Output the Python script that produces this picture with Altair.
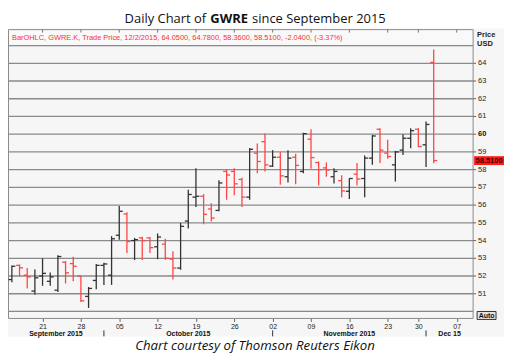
import altair as alt
import pandas as pd

# ---------------- data ----------------
dates = [
    "2015-09-15", "2015-09-16", "2015-09-17", "2015-09-18",
    "2015-09-21", "2015-09-22", "2015-09-23", "2015-09-24", "2015-09-25",
    "2015-09-28", "2015-09-29", "2015-09-30", "2015-10-01", "2015-10-02",
    "2015-10-05", "2015-10-06", "2015-10-07", "2015-10-08", "2015-10-09",
    "2015-10-12", "2015-10-13", "2015-10-14", "2015-10-15", "2015-10-16",
    "2015-10-19", "2015-10-20", "2015-10-21", "2015-10-22", "2015-10-23",
    "2015-10-26", "2015-10-27", "2015-10-28", "2015-10-29", "2015-10-30",
    "2015-11-02", "2015-11-03", "2015-11-04", "2015-11-05", "2015-11-06",
    "2015-11-09", "2015-11-10", "2015-11-11", "2015-11-12", "2015-11-13",
    "2015-11-16", "2015-11-17", "2015-11-18", "2015-11-19", "2015-11-20",
    "2015-11-23", "2015-11-24", "2015-11-25", "2015-11-27",
    "2015-11-30", "2015-12-01", "2015-12-02",
]
future_days = ["2015-12-03", "2015-12-04", "2015-12-07", "2015-12-08"]

opens = [51.8, 52.6, 52.05, 51.15, 52.0, 51.7, 51.2, 52.78, 52.7,
         52.0, 50.85, 51.75, 52.6, 52.05,
         54.3, 55.5, 54.0, 54.15, 54.15,
         53.65, 53.8, 52.95, 52.45, 55.1,
         56.45, 56.5, 55.78, 55.7, 57.9,
         57.9, 57.45, 56.45, 58.93, 59.58,
         58.2, 58.7, 57.6, 58.7, 57.9,
         59.72, 58.4, 58.1, 57.6, 57.38,
         56.78, 57.75, 57.5, 58.65, 60.28,
         58.93, 58.27, 59.1, 59.77,
         60.28, 59.4, 64.05]
highs = [52.6, 52.65, 52.45, 52.37, 53.0, 52.2, 53.17, 52.84, 53.08,
         52.02, 51.38, 52.68, 52.75, 54.25,
         55.95, 55.6, 54.15, 54.22, 54.2,
         54.4, 54.1, 53.4, 55.0, 56.86,
         58.08, 56.62, 56.1, 57.4, 58.0,
         58.08, 57.55, 59.22, 59.48, 60.04,
         59.1, 59.0, 59.1, 58.9, 60.08,
         60.28, 58.46, 58.4, 58.08, 57.68,
         57.52, 58.37, 58.8, 59.96, 60.34,
         59.68, 59.06, 60.0, 60.34,
         60.34, 60.71, 64.78]
lows = [51.65, 51.99, 51.3, 50.96, 51.45, 51.45, 51.1, 51.58, 51.7,
        50.53, 50.2, 51.25, 51.5, 51.5,
        54.05, 53.3, 52.9, 52.9, 53.3,
        52.95, 52.92, 51.8, 52.35, 54.68,
        55.9, 54.92, 55.08, 55.65, 56.3,
        56.55, 55.9, 56.3, 57.8, 57.9,
        58.15, 57.15, 57.28, 57.17, 57.8,
        58.05, 57.1, 57.6, 57.22, 56.45,
        56.35, 57.1, 56.45, 58.27, 58.37,
        58.62, 57.33, 58.83, 59.21,
        59.27, 58.15, 58.36]
closes = [52.55, 52.46, 51.95, 51.9, 52.15, 51.95, 53.1, 52.18, 52.55,
          50.6, 51.3, 52.6, 52.68, 54.1,
          55.65, 53.95, 54.05, 54.0, 53.6,
          54.2, 53.0, 52.45, 54.8, 56.6,
          56.5, 55.48, 55.27, 57.25, 57.7,
          57.2, 56.45, 59.15, 58.46, 58.27,
          58.7, 57.65, 58.65, 58.24, 60.03,
          58.68, 58.0, 57.98, 57.9, 56.8,
          57.5, 57.47, 58.65, 59.9, 59.1,
          58.74, 59.0, 59.77, 60.2,
          59.3, 60.55, 58.51]

tick_days = ["2015-09-21", "2015-09-28", "2015-10-05", "2015-10-12", "2015-10-19",
             "2015-10-26", "2015-11-02", "2015-11-09", "2015-11-16", "2015-11-23",
             "2015-11-30", "2015-12-07"]
tick_labels = ["21", "28", "05", "12", "19", "26", "02", "09", "16", "23", "30", "07"]
month_labels = ["September 2015", "October 2015", "November 2015", "Dec 15"]
y_grid = list(range(50, 66))
y_labels = list(range(51, 65))
y_bold = [60]
header_text = ("BarOHLC, GWRE.K, Trade Price,  12/2/2015, 64.0500, 64.7800, "
               "58.3600, 58.5100, -2.0400, (-3.37%)")
title_parts = ["Daily Chart of", "GWRE", "since September 2015"]
caption = "Chart courtesy of Thomson Reuters Eikon"

# ---------------- derived tables ----------------
W, H = 467, 267
XMIN, XMAX = -0.506, 60.14
RED, BLACK, GRID = "#ff4545", "#333333", "#8a8a8a"
SMALL = "Liberation Sans"

all_days = dates + future_days
df = pd.DataFrame({"date": dates, "open": opens, "high": highs,
                   "low": lows, "close": closes})
df["i"] = range(len(df))
df["dir"] = ["down" if c < o else "up" for o, c in zip(opens, closes)]

tick_idx = [all_days.index(d) for d in tick_days]
ticks_df = pd.DataFrame({"i": tick_idx, "lbl": tick_labels})

mon = pd.to_datetime(pd.Series(dates)).dt.to_period("M")
firsts = [int(mon[mon == m].index.min()) for m in mon.unique()][1:]
bounds = [XMIN] + firsts + [XMAX]
month_df = pd.DataFrame({"m": month_labels,
                         "c": [(a + b) / 2 for a, b in zip(bounds[:-1], bounds[1:])]})
sep_df = pd.DataFrame({"i": firsts})
grid_df = pd.DataFrame({"v": y_grid})
ylab_df = pd.DataFrame({"v": y_labels})
ylab_df["bold"] = ylab_df["v"].isin(y_bold)
one = pd.DataFrame({"k": [0]})
last = df.tail(1)

xs = alt.Scale(domain=[XMIN, XMAX], nice=False, zero=False)
ys = alt.Scale(domain=[50, 65], nice=False, zero=False)

label_expr_x = f"{tick_labels}[indexof({tick_idx}, datum.value)]"

x_axis = alt.Axis(orient="bottom", offset=7, values=tick_idx, labelExpr=label_expr_x,
                  tickSize=3, tickColor="#666", domain=False, grid=False,
                  labelFont=SMALL, labelFontSize=7, labelColor="#222",
                  labelPadding=1, labelFlush=False, labelOverlap=False, zindex=1)

color = alt.Color("dir:N", scale=alt.Scale(domain=["up", "down"], range=[BLACK, RED]),
                  legend=None)


def Y(field):
    return alt.Y(field, scale=ys, axis=None)


# ---------------- layers ----------------
panel = alt.Chart(one).mark_rect(color="#f6f6f6").encode(
    x=alt.value(0), x2=alt.value(498), y=alt.value(-17), y2=alt.value(292))

boxes = [
    alt.Chart(one).mark_rect(fill="#f9f9f9", stroke="#8a8a8a", strokeWidth=1).encode(
        x=alt.value(0.5), x2=alt.value(W), y=alt.value(-16), y2=alt.value(0)),
    alt.Chart(one).mark_rect(fill="#f6f6f6", stroke="#8a8a8a", strokeWidth=1).encode(
        x=alt.value(0.5), x2=alt.value(W), y=alt.value(0), y2=alt.value(H)),
    alt.Chart(one).mark_rect(fill="#f6f6f6", stroke="#8a8a8a", strokeWidth=1).encode(
        x=alt.value(0.5), x2=alt.value(W), y=alt.value(H), y2=alt.value(H + 7)),
]

grid = alt.Chart(grid_df).mark_rule(color=GRID, strokeWidth=1.3).encode(
    y=Y("v:Q"), x=alt.value(0.5), x2=alt.value(W))
yticks = alt.Chart(ylab_df).mark_rule(color="#666", strokeWidth=1).encode(
    y=Y("v:Q"), x=alt.value(W), x2=alt.value(W + 3))
ylab_n = alt.Chart(ylab_df).transform_filter("!datum.bold").mark_text(
    font=SMALL, fontSize=7.5, color="#222", align="left", baseline="middle").encode(
    y=Y("v:Q"), x=alt.value(W + 5), text="v:Q")
ylab_b = alt.Chart(ylab_df).transform_filter("datum.bold").mark_text(
    font=SMALL, fontSize=7.5, fontWeight="bold", color="#111", align="left",
    baseline="middle").encode(y=Y("v:Q"), x=alt.value(W + 5), text="v:Q")

hl = alt.Chart(df).mark_rule(strokeWidth=1.3).encode(
    x=alt.X("i:Q", scale=xs, axis=x_axis, title=None),
    y=Y("low:Q"), y2="high:Q", color=color)
op = alt.Chart(df).transform_calculate(il="datum.i - 0.45").mark_rule(strokeWidth=1.3).encode(
    x=alt.X("il:Q", scale=xs, title=None), x2="i:Q", y=Y("open:Q"), color=color)
cl = alt.Chart(df).transform_calculate(ir="datum.i + 0.45").mark_rule(strokeWidth=1.3).encode(
    x=alt.X("i:Q", scale=xs, title=None), x2="ir:Q", y=Y("close:Q"), color=color)

top_ticks = alt.Chart(ticks_df).mark_rule(color="#777", strokeWidth=1).encode(
    x=alt.X("i:Q", scale=xs, title=None), y=alt.value(-16), y2=alt.value(-13))

price_box = alt.Chart(last).transform_calculate(
    t="datum.close + 0.25", b="datum.close - 0.25").mark_rect(color="#ff1a1a").encode(
    x=alt.value(468), x2=alt.value(498), y=Y("t:Q"), y2="b:Q")
price_txt = alt.Chart(last).transform_calculate(
    lbl="format(datum.close, '.4f')").mark_text(
    font=SMALL, fontSize=7.5, fontWeight="bold", color="#4a0000").encode(
    x=alt.value(483), y=Y("close:Q"), text="lbl:N")

header = alt.Chart(one).mark_text(font=SMALL, fontSize=7.45, color="#ff3030",
                                  align="left", baseline="middle").encode(
    x=alt.value(4), y=alt.value(-8), text=alt.value(header_text))

price_lbl = alt.Chart(one).mark_text(font=SMALL, fontSize=7.5, fontWeight="bold",
                                     color="#222", align="left", baseline="middle").encode(
    x=alt.value(471), y=alt.value(-11), text=alt.value("Price"))
usd_lbl = alt.Chart(one).mark_text(font=SMALL, fontSize=7.5, fontWeight="bold",
                                   color="#222", align="left", baseline="middle").encode(
    x=alt.value(471), y=alt.value(-2), text=alt.value("USD"))
auto_box = alt.Chart(one).mark_rect(fill="#e4e4e4", stroke="#333", strokeWidth=1).encode(
    x=alt.value(471), x2=alt.value(490), y=alt.value(267), y2=alt.value(275))
auto_txt = alt.Chart(one).mark_text(font=SMALL, fontSize=7, fontWeight="bold",
                                    color="#111", baseline="middle").encode(
    x=alt.value(480.5), y=alt.value(271.5), text=alt.value("Auto"))

months = alt.Chart(month_df).mark_text(font=SMALL, fontSize=7, fontWeight="bold",
                                       color="#111", baseline="middle").encode(
    x=alt.X("c:Q", scale=xs, title=None), y=alt.value(289.5), text="m:N")
seps = alt.Chart(sep_df).mark_rule(color="#333", strokeWidth=1).encode(
    x=alt.X("i:Q", scale=xs, title=None), y=alt.value(286), y2=alt.value(292))

t1 = alt.Chart(one).mark_text(font="Open Sans", fontSize=13, color="#111",
                              align="right", baseline="middle").encode(
    x=alt.value(199), y=alt.value(-27), text=alt.value(title_parts[0]))
t2 = alt.Chart(one).mark_text(font="Open Sans", fontSize=13, fontWeight="bold",
                              color="#111", align="center", baseline="middle").encode(
    x=alt.value(222), y=alt.value(-27), text=alt.value(title_parts[1]))
t3 = alt.Chart(one).mark_text(font="Open Sans", fontSize=13, color="#111",
                              align="left", baseline="middle").encode(
    x=alt.value(245), y=alt.value(-27), text=alt.value(title_parts[2]))
cap = alt.Chart(one).mark_text(font="Open Sans", fontSize=13.3, fontStyle="italic",
                               color="#111", align="center", baseline="middle").encode(
    x=alt.value(248), y=alt.value(302), text=alt.value(caption))

chart = alt.layer(
    panel, *boxes, grid, yticks, ylab_n, ylab_b, hl, op, cl, top_ticks,
    price_box, price_txt, header, price_lbl, usd_lbl, auto_box, auto_txt,
    months, seps, t1, t2, t3, cap
).properties(
    width=W, height=H,
    autosize=alt.AutoSizeParams(type="none"),
    padding={"left": 0, "top": 37, "right": 31, "bottom": 43},
    background="white",
).configure_view(stroke=None).configure_axis(labelOverlap=False)

chart.save("out.html", embed_options={"renderer": "svg", "actions": False})
